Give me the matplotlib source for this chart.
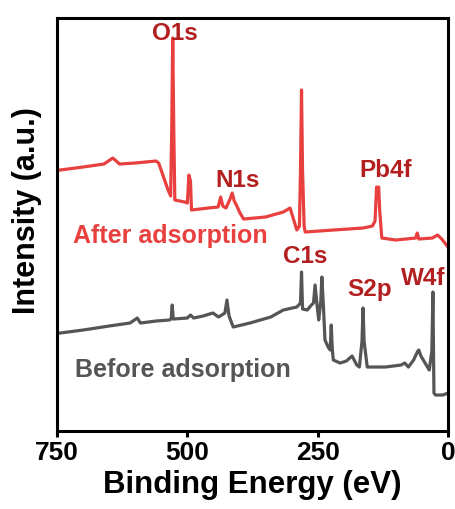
import matplotlib.pyplot as plt

plt.rcParams['font.family'] = ['Liberation Sans', 'DejaVu Sans']
plt.rcParams['font.weight'] = 'bold'

# survey spectra, binding energy (eV) and intensity (a.u.)
after_energy = [744, 700, 660, 643, 630, 600, 560, 555, 537, 532, 530, 528, 526, 524,
                505, 500, 497, 494, 492, 460, 441, 436, 432, 426, 418, 414, 410, 405,
                399, 392, 350, 316, 303, 290, 285, 283, 281, 279, 276, 274, 220, 163,
                145, 140, 137, 135, 133, 131, 127, 100, 62, 59, 56, 30, 20, 12, 0]
after_int = [261, 264, 267, 273, 267, 268, 270, 268, 241, 235, 300, 393, 300, 231,
             229, 228, 256, 250, 221, 223, 224, 234, 225, 223, 232, 238, 230, 225,
             218, 212, 214, 219, 223, 201, 205, 260, 341, 260, 205, 199, 201, 203,
             205, 210, 244, 240, 244, 220, 193, 191, 193, 198, 192, 193, 196, 192, 184]

before_energy = [744, 700, 650, 610, 596, 590, 560, 535, 531, 529, 527, 500, 494, 488,
                 470, 451, 440, 428, 424, 420, 412, 380, 340, 316, 290, 283, 281, 279,
                 270, 262, 258, 255, 251, 248, 244, 242, 239, 236, 230, 226, 224, 222,
                 220, 207, 195, 184, 175, 170, 165, 163, 161, 155, 120, 90, 83, 76,
                 66, 58, 56, 52, 44, 36, 31, 29, 27, 24, 10, 0]
before_int = [98, 101, 105, 108, 113, 108, 110, 111, 112, 126, 112, 113, 116, 113,
              115, 118, 114, 118, 131, 115, 104, 108, 114, 121, 124, 128, 159, 122,
              121, 126, 128, 146, 125, 111, 130, 154, 125, 91, 84, 81, 106, 82,
              71, 68, 70, 75, 66, 64, 90, 123, 90, 64, 64, 66, 68, 64,
              71, 80, 81, 75, 68, 61, 80, 139, 38, 36, 36, 38]

peak_labels = ['O1s', 'N1s', 'Pb4f', 'C1s', 'S2p', 'W4f']
peak_x = [523.6, 402.8, 118.9, 274.3, 150.5, 47]
peak_y = [391, 244, 254, 168, 135, 146]

red = '#e8403f'
grey = '#555555'
dark_red = '#b31f1f'

fig = plt.figure(figsize=(4.56, 5.09), dpi=100)
ax = fig.add_axes([0.125, 0.1532, 0.8575, 0.8114])

ax.plot(after_energy, after_int, color=red, lw=2.3)
ax.plot(before_energy, before_int, color=grey, lw=2.3)

for lab, x, y in zip(peak_labels, peak_x, peak_y):
    ax.text(x, y, lab, color=dark_red, fontsize=17.5, ha='center', va='baseline')

ax.text(719, 188, 'After adsorption', color=red, fontsize=18, ha='left', va='baseline')
ax.text(715, 54, 'Before adsorption', color=grey, fontsize=18, ha='left', va='baseline')

ax.set_xlim(750, 0)
ax.set_ylim(0, 413)
ax.set_xticks([750, 500, 250, 0])
ax.set_yticks([])
ax.tick_params(axis='x', direction='out', length=4, width=2.2, labelsize=19, pad=3)
for s in ax.spines.values():
    s.set_linewidth(2.2)

ax.set_xlabel('Binding Energy (eV)', fontsize=22.5, fontweight='bold', labelpad=4)
ax.set_ylabel('Intensity (a.u.)', fontsize=22, fontweight='bold')
ax.yaxis.set_label_coords(-0.038, 0.533)

plt.savefig('out.png', dpi=100)
